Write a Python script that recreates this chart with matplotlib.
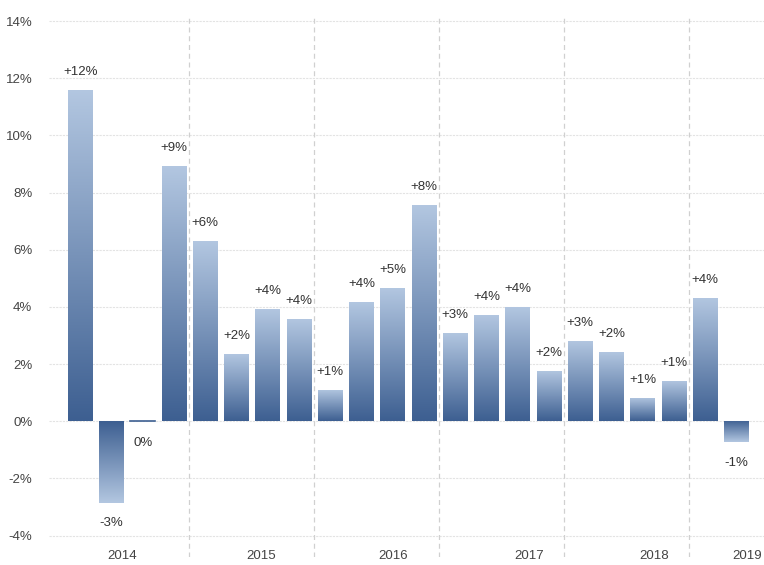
import matplotlib
matplotlib.use("Agg")
import matplotlib.pyplot as plt
import numpy as np
from matplotlib.colors import LinearSegmentedColormap

plt.rcParams['font.family'] = ['Liberation Sans', 'DejaVu Sans']

quarters = ["2014Q1", "2014Q2", "2014Q3", "2014Q4",
            "2015Q1", "2015Q2", "2015Q3", "2015Q4",
            "2016Q1", "2016Q2", "2016Q3", "2016Q4",
            "2017Q1", "2017Q2", "2017Q3", "2017Q4",
            "2018Q1", "2018Q2", "2018Q3", "2018Q4",
            "2019Q1", "2019Q2"]
values = [11.59, -2.86, -0.05, 8.94,
          6.30, 2.35, 3.92, 3.57,
          1.09, 4.17, 4.66, 7.56,
          3.08, 3.71, 3.99, 1.75,
          2.80, 2.42, 0.82, 1.40,
          4.31, -0.74]
years = ["2014", "2015", "2016", "2017", "2018", "2019"]
year_label_pos = [1.34, 5.8, 10.0, 14.35, 18.35, 21.35]
dividers = [3.47, 7.47, 11.47, 15.47, 19.47]
yticks = [-4, -2, 0, 2, 4, 6, 8, 10, 12, 14]

fig = plt.figure(figsize=(7.64, 5.65), dpi=100)
ax = fig.add_axes([49/764, 1 - 557/565, 715/764, 542/565])

x = np.arange(len(values))
ax.set_xlim(-1.0, 21.88)
ax.set_ylim(-4.75, 14.21)

cmap = LinearSegmentedColormap.from_list("g", ["#3d5f91", "#b3c7e1"])
grad = np.linspace(0, 1, 256).reshape(-1, 1)

bars = ax.bar(x, values, width=0.8, color="none", edgecolor="none", zorder=2)
for b, v in zip(bars, values):
    x0 = b.get_x()
    w = b.get_width()
    if v >= 0:
        extent = (x0, x0 + w, 0, v)
        img = grad
    else:
        extent = (x0, x0 + w, v, 0)
        img = grad[::-1]
    if abs(v) < 0.1:
        ax.plot([x0, x0 + w], [0, 0], color="#3d5f91", lw=1.2, zorder=3)
        continue
    im = ax.imshow(img, extent=extent, origin="lower", cmap=cmap,
                   aspect="auto", zorder=2, interpolation="bilinear")
    im.set_clip_path(b)

for xi, v in zip(x, values):
    r = int(round(v))
    if v > 0.05:
        txt = "+%d%%" % r
        ax.annotate(txt, (xi, v), xytext=(0, 13), textcoords="offset points",
                    ha="center", va="center", fontsize=9.5, color="#333333")
    else:
        txt = "%d%%" % r
        ax.annotate(txt, (xi, v), xytext=(0, -14.5), textcoords="offset points",
                    ha="center", va="center", fontsize=9.5, color="#333333")

for d in dividers:
    ax.axvline(d, color="#d0d0d0", lw=0.9, ls=(0, (4, 3)), zorder=1)

for yt in yticks:
    ax.axhline(yt, color="#e3e3e3", lw=0.8, ls=(0, (2, 1)), zorder=0)

ax.set_yticks(yticks)
ax.set_yticklabels(["%d%%" % t for t in yticks], fontsize=9.5, color="#444444")
ax.tick_params(axis="y", length=0, pad=12)
ax.set_xticks([])
for s in ax.spines.values():
    s.set_visible(False)

for yl, p in zip(years, year_label_pos):
    ax.text(p, -4.7, yl, ha="center", va="center", fontsize=9.5, color="#444444")

fig.savefig("out.png", dpi=100)
